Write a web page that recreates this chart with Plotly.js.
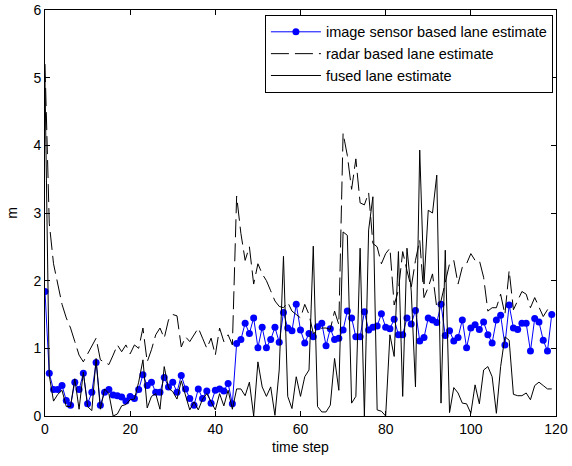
<!DOCTYPE html>
<html><head><meta charset="utf-8">
<script src="https://cdn.plot.ly/plotly-3.0.1.min.js"></script>
<style>html,body{margin:0;padding:0;background:#fff}#chart{width:572px;height:466px}</style>
</head><body><div id="chart"></div>
<script>
const seriesNames = ['image sensor based lane estimate', 'radar based lane estimate', 'fused lane estimate'];

const imageSensor = [
1.84,0.63,0.39,0.39,0.45,0.23,0.16,0.50,0.39,0.63,
0.18,0.35,0.79,0.16,0.35,0.39,0.31,0.30,0.28,0.22,
0.29,0.26,0.39,0.61,0.45,0.50,0.35,0.35,0.57,0.43,
0.50,0.35,0.60,0.40,0.26,0.16,0.40,0.26,0.37,0.19,
0.38,0.40,0.37,0.48,0.18,1.07,1.13,1.37,1.22,1.45,
1.01,1.31,1.01,1.13,1.31,1.09,1.53,1.30,1.26,1.65,
1.27,1.08,1.22,1.17,1.32,1.37,1.04,1.29,1.13,1.15,
1.27,1.55,1.45,1.17,1.17,1.54,1.27,1.31,1.33,1.51,
1.31,1.29,1.43,1.20,1.20,1.45,1.36,1.56,1.11,1.16,
1.45,1.42,1.38,1.65,1.19,1.26,1.11,1.16,1.42,1.01,
1.30,1.35,1.28,1.39,1.20,1.08,1.42,1.49,1.05,1.64,
1.30,1.28,1.37,1.37,0.96,1.44,1.39,1.12,0.96,1.50
];

const radar = [
5.20,2.85,2.25,1.95,1.65,1.45,1.30,1.10,0.90,0.80,
0.92,1.04,1.15,0.83,0.80,0.76,0.90,1.05,0.95,1.05,
0.92,1.05,1.00,1.30,0.80,0.98,1.20,1.30,1.15,1.42,
1.50,1.48,1.02,1.17,1.10,1.20,1.30,1.15,1.00,1.15,
0.90,1.30,1.10,1.20,1.05,3.25,2.70,2.30,2.50,1.95,
2.25,2.10,2.00,1.85,1.70,1.62,1.60,1.68,1.55,1.50,
1.45,1.65,1.50,1.22,1.25,1.30,1.30,1.28,1.55,1.35,
4.18,3.85,3.35,3.80,3.15,3.12,3.30,2.55,2.50,2.25,
2.40,2.48,1.64,1.86,2.43,2.15,1.90,2.30,2.60,1.75,
1.90,2.10,1.60,1.70,2.00,2.25,2.30,1.95,2.20,2.25,
2.40,2.30,2.30,2.05,1.55,1.60,1.60,1.80,1.50,2.15,
1.57,1.70,1.84,1.80,1.60,1.75,1.60,1.47,1.57,1.64
];

const fused = [
4.95,0.60,0.22,0.32,0.38,0.14,0.14,0.55,0.10,0.65,
0.14,0.08,0.85,0.10,0.40,0.33,0.00,0.03,0.15,0.17,
0.24,0.25,0.50,0.83,0.12,0.29,0.33,0.10,0.73,0.41,
0.36,0.25,0.52,0.29,0.09,0.21,0.09,0.25,0.33,0.21,
0.09,0.33,0.15,0.38,0.10,0.40,0.40,0.30,0.50,0.00,
0.80,0.43,0.29,0.43,0.01,0.68,2.36,0.29,0.11,0.58,
0.29,0.58,0.68,2.51,0.14,0.06,0.06,0.16,0.85,0.38,
2.72,2.67,0.19,0.29,2.48,0.00,2.75,3.24,0.09,0.07,
0.00,1.20,0.88,2.43,0.29,2.48,1.85,0.43,3.93,1.95,
3.04,3.00,3.56,0.19,2.45,0.05,0.42,0.34,0.19,0.18,
0.04,0.46,0.18,0.68,0.73,0.58,0.04,0.73,1.17,1.12,
0.32,0.30,0.30,0.34,0.24,0.45,0.50,0.45,0.40,0.40
];

const xTicks = [0,20,40,60,80,100,120];
const yTicks = [0,1,2,3,4,5,6];

const traces = [
  {y: imageSensor, name: seriesNames[0], type: 'scatter', mode: 'lines+markers',
   line: {color: '#0000ff', width: 1}, marker: {color: '#0000ff', size: 7}},
  {y: radar, name: seriesNames[1], type: 'scatter', mode: 'lines',
   line: {color: '#000000', width: 1, dash: '18px,6px'}},
  {y: fused, name: seriesNames[2], type: 'scatter', mode: 'lines',
   line: {color: '#000000', width: 1}}
];

const axisCommon = {
  showline: true, mirror: 'ticks', linecolor: '#000', linewidth: 1,
  ticks: 'inside', ticklen: 5, tickcolor: '#000', tickwidth: 1,
  showgrid: false, zeroline: false, tickfont: {size: 14, color: '#000'}
};

const layout = {
  width: 572, height: 466,
  margin: {l: 45, r: 16, t: 10, b: 50},
  paper_bgcolor: '#fff', plot_bgcolor: '#fff',
  font: {family: 'Liberation Sans, Arial, sans-serif', size: 14, color: '#000'},
  showlegend: true,
  xaxis: Object.assign({}, axisCommon, {range: [0, 120], tickvals: xTicks,
    title: {text: 'time step', font: {size: 14}, standoff: 6}}),
  yaxis: Object.assign({}, axisCommon, {range: [0, 6], tickvals: yTicks,
    title: {text: 'm', font: {size: 14}, standoff: 12}}),
  legend: {x: 0.994, xanchor: 'right', y: 0.988, yanchor: 'top',
    bordercolor: '#000', borderwidth: 1, bgcolor: '#fff',
    font: {size: 14.5, color: '#000'}, itemwidth: 50}
};

Plotly.newPlot('chart', traces, layout, {displayModeBar: false, staticPlot: true});
</script>
</body></html>
